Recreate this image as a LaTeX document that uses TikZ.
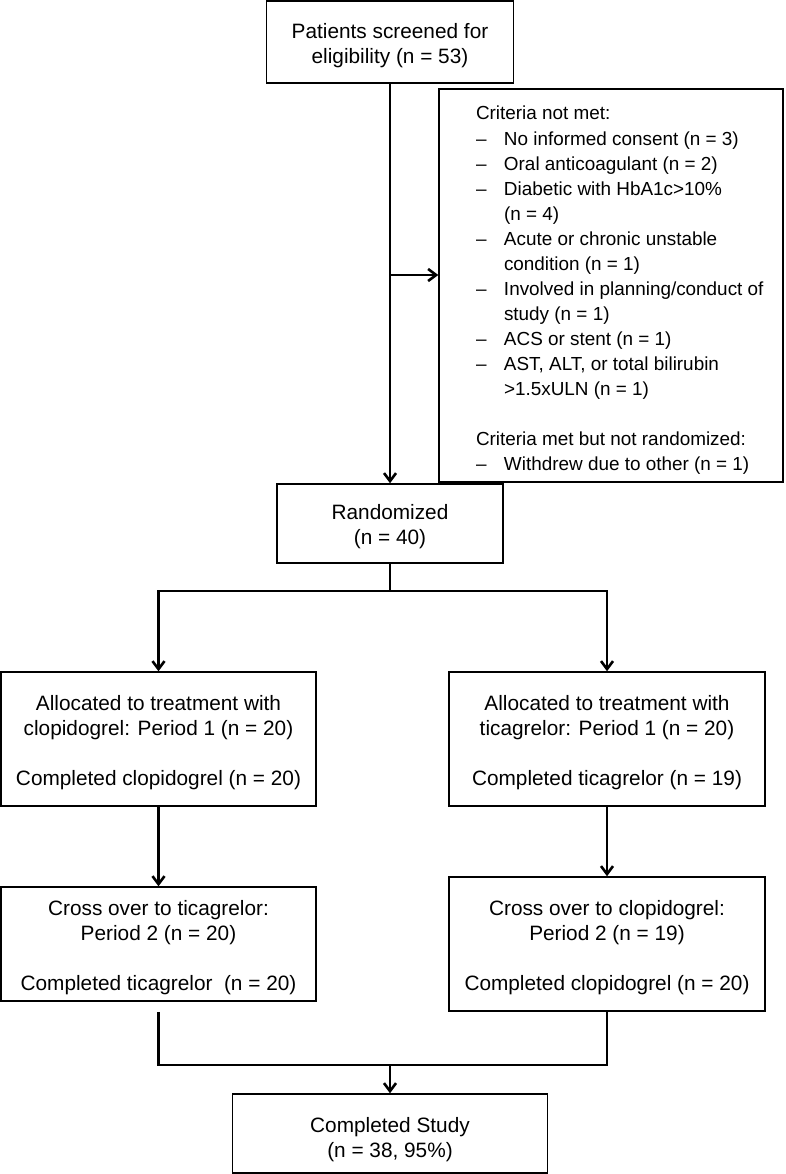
\documentclass[tikz,border=0pt]{standalone}
\usepackage{fontspec}
\setmainfont{Liberation Sans}
\usetikzlibrary{arrows.meta}
\newcommand{\tup}{\rule{0pt}{22pt}}
\begin{document}
\begin{tikzpicture}[x=1pt,y=-1pt,
  box/.style={draw, line width=1.5pt, inner sep=0pt, align=center, font=\fontsize{20.8}{25}\selectfont},
  critbox/.style={draw, line width=1.5pt, inner sep=0pt, font=\fontsize{18.9}{25}\selectfont},
  conn/.style={line width=2.6pt},
  arr/.style={conn, -{Straight Barb[length=8pt,width=12pt]}}]
\useasboundingbox (0,0) rectangle (786,1174);

\node[box, minimum width=247pt, minimum height=82pt] (screen) at (390,42) {\tup Patients screened for\\eligibility (n = 53)};

\node[critbox, minimum height=393pt] (crit) at (611,285.5) {%
\begin{tabular}{@{\hspace{37pt}}p{28pt}@{}p{279pt}@{}}
\multicolumn{2}{@{\hspace{37pt}}l@{}}{Criteria not met:}\\
– & No informed consent (n = 3)\\
– & Oral anticoagulant (n = 2)\\
– & Diabetic with HbA1c>10\%\\
 & (n = 4)\\
– & Acute or chronic unstable\\
 & condition (n = 1)\\
– & Involved in planning/conduct of\\
 & study (n = 1)\\
– & ACS or stent (n = 1)\\
– & AST, ALT, or total bilirubin\\
 & >1.5xULN (n = 1)\\
 & \\
\multicolumn{2}{@{\hspace{37pt}}l@{}}{Criteria met but not randomized:}\\
– & Withdrew due to other (n = 1)\\[-9pt]
\end{tabular}};

\node[box, minimum width=226pt, minimum height=79pt] (rand) at (390,523.5) {\tup Randomized\\(n = 40)};

\node[box, minimum width=315pt, minimum height=134pt] (a1) at (158.5,739) {\tup Allocated to treatment with\\clopidogrel: Period 1 (n = 20)\\[25pt]Completed clopidogrel (n = 20)};
\node[box, minimum width=316pt, minimum height=134pt] (a2) at (607,739) {\tup Allocated to treatment with\\ticagrelor: Period 1 (n = 20)\\[25pt]Completed ticagrelor (n = 19)};

\node[box, minimum width=315pt, minimum height=114pt] (c1) at (158.5,944) {\tup Cross over to ticagrelor:\\Period 2 (n = 20)\\[25pt]Completed ticagrelor~ (n = 20)};
\node[box, minimum width=316pt, minimum height=134pt] (c2) at (607,944) {\tup Cross over to clopidogrel:\\Period 2 (n = 19)\\[25pt]Completed clopidogrel (n = 20)};

\node[box, minimum width=315pt, minimum height=79pt] (done) at (390,1133.5) {\rule{0pt}{26.5pt}Completed Study\\(n = 38, 95\%)};

\draw[arr] (screen.south) -- (rand.north);
\coordinate (j) at (390,275);
\draw[arr] (j) -- (j -| crit.west);

\coordinate (sp) at (390,591);
\draw[conn] (rand.south) -- (sp);
\draw[arr] (sp) -| (a1.north);
\draw[arr] (sp) -| (a2.north);

\draw[arr] (a1.south) -- (c1.north);
\draw[arr] (a2.south) -- (c2.north);

\coordinate (mg) at (390,1065);
\draw[conn] ([yshift=-10pt]c1.south) |- (mg);
\draw[conn] (c2.south) |- (mg);
\draw[arr] (mg) -- (done.north);
\end{tikzpicture}
\end{document}
